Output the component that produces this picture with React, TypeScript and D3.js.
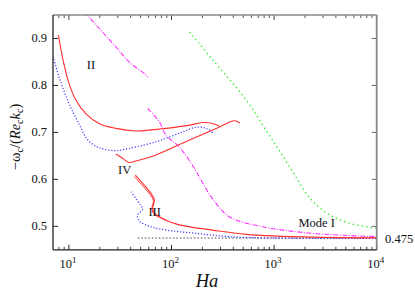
import React from 'react';
import * as d3 from 'd3';

// curves: [Ha, -omega_c/(Re_c k_c)]
const redII: [number, number][] = [
  [7.9, 0.907], [8.64, 0.861], [10.0, 0.805], [11.7, 0.769], [14.6, 0.74],
  [19.7, 0.719], [28.7, 0.7085], [45, 0.703], [76, 0.707], [88.5, 0.7085],
  [150, 0.7155], [202, 0.721], [251, 0.719], [294, 0.713],
];
const redIV: [number, number][] = [
  [28.7, 0.654], [33.3, 0.645], [38.7, 0.636], [45, 0.639], [70.6, 0.652],
  [150, 0.684], [273, 0.7085], [412, 0.7247], [462, 0.72],
];
const redIII: [number, number][] = [
  [44.4, 0.609], [52.3, 0.5915], [63.1, 0.57], [68, 0.556], [65.5, 0.538],
  [68, 0.528], [88.5, 0.513], [119, 0.503], [251, 0.492], [536, 0.483],
  [2380, 0.4768], [10000, 0.4755],
];
const redIIIb: [number, number][] = [
  [43.2, 0.606], [51, 0.589], [61.5, 0.568], [66.5, 0.555], [64.5, 0.539],
  [67, 0.527], [88.5, 0.513],
];
const blueII: [number, number][] = [
  [6.9, 0.868], [8.02, 0.818], [10.0, 0.762], [12.6, 0.717], [14.8, 0.688],
  [17.2, 0.674], [19.7, 0.6677], [23.6, 0.6628], [28.7, 0.661], [33.3, 0.663],
  [70.6, 0.68], [128.5, 0.701], [174, 0.711], [218, 0.7085], [253, 0.6996],
];
const blueIII: [number, number][] = [
  [40.3, 0.5736], [48.5, 0.549], [52.3, 0.537], [46.7, 0.524], [48.5, 0.511],
  [65.5, 0.498], [88.5, 0.492], [174, 0.485], [368, 0.478], [1135, 0.4748],
  [10000, 0.4745],
];
const magentaUpper: [number, number][] = [
  [14.2, 0.956], [28.7, 0.882], [38.7, 0.85], [56.5, 0.822], [58.5, 0.817],
];
const magentaLower: [number, number][] = [
  [58.5, 0.751], [76.2, 0.7226], [88.5, 0.694], [119, 0.669], [167.5, 0.6234],
  [194.5, 0.5979], [253, 0.558], [368, 0.52], [778, 0.499], [2400, 0.485],
  [10000, 0.478],
];
const green: [number, number][] = [
  [150, 0.914], [253, 0.854], [536, 0.769], [809, 0.709], [1135, 0.66],
  [1589, 0.6092], [2230, 0.56], [3500, 0.524], [5500, 0.5064], [8600, 0.498],
  [10000, 0.4962],
];

const asymptote = 0.475;
const asymptoteStart = 47;
const yTicks = [0.5, 0.6, 0.7, 0.8, 0.9];
const xMajor = [10, 100, 1000, 10000];
const xExponents = ['1', '2', '3', '4'];

const labels: { text: string; ha: number; v: number }[] = [
  { text: 'II', ha: 16.4, v: 0.836 },
  { text: 'IV', ha: 35, v: 0.611 },
  { text: 'III', ha: 68.5, v: 0.521 },
  { text: 'Mode I', ha: 2600, v: 0.4995 },
];

const W = 415;
const H = 291;
const left = 53, right = 376.7, top = 15, bottom = 249.8;

export default function App() {
  const x = d3.scaleLog().domain([7, 10000]).range([left, right]);
  const y = d3.scaleLinear().domain([0.45, 0.95]).range([bottom, top]);

  const line = d3
    .line<[number, number]>()
    .x(d => x(d[0]))
    .y(d => y(d[1]))
    .curve(d3.curveCatmullRom.alpha(0.5));

  const minor: number[] = [];
  [1, 10, 100, 1000].forEach(dec => {
    for (let k = 2; k <= 9; k++) {
      const v = dec * k;
      if (v > 7 && v < 10000) minor.push(v);
    }
  });

  const serif = "'Liberation Serif', 'Times New Roman', 'DejaVu Serif', serif";

  return (
    <svg width={W} height={H} style={{ position: 'absolute', left: 0, top: 0, fontFamily: serif }}>
      <rect width={W} height={H} fill="#fff" />
      <defs>
        <clipPath id="plot">
          <rect x={left} y={top} width={right - left} height={bottom - top} />
        </clipPath>
      </defs>

      {/* ticks, mirrored on all sides */}
      {yTicks.map(t => (
        <g key={t}>
          <line x1={left} x2={left + 5} y1={y(t)} y2={y(t)} stroke="#222" />
          <line x1={right} x2={right - 5} y1={y(t)} y2={y(t)} stroke="#666" />
          <text x={47} y={y(t) + 4} textAnchor="end" fontSize={12.5} fill="#111">
            {t.toFixed(1)}
          </text>
        </g>
      ))}
      {xMajor.map((t, i) => (
        <g key={t}>
          <line x1={x(t)} x2={x(t)} y1={bottom} y2={bottom - 5} stroke="#222" />
          <line x1={x(t)} x2={x(t)} y1={top} y2={top + 5} stroke="#444" />
          <text x={x(t) - 1} y={268} textAnchor="middle" fontSize={12.5} fill="#111">
            10<tspan fontSize={9} dy={-5}>{xExponents[i]}</tspan>
          </text>
        </g>
      ))}
      {minor.map(t => (
        <g key={t}>
          <line x1={x(t)} x2={x(t)} y1={bottom} y2={bottom - 3} stroke="#444" />
          <line x1={x(t)} x2={x(t)} y1={top} y2={top + 3} stroke="#555" />
        </g>
      ))}

      <g clipPath="url(#plot)" fill="none">
        <line
          x1={x(asymptoteStart)} x2={right} y1={y(asymptote)} y2={y(asymptote)}
          stroke="#333" strokeWidth={0.9} strokeDasharray="1.5,2"
        />
        <path d={line(green) || ''} stroke="#33ee33" strokeWidth={1.3} strokeDasharray="1.5,3" />
        <path d={line(magentaUpper) || ''} stroke="#ff33ff" strokeWidth={1.1} strokeDasharray="5,1.5,1,1.5" />
        <path d={line(magentaLower) || ''} stroke="#ff33ff" strokeWidth={1.1} strokeDasharray="5,1.5,1,1.5" />
        <path d={line(blueII) || ''} stroke="#3a3aff" strokeWidth={1.2} strokeDasharray="1.2,1.8" />
        <path d={line(blueIII) || ''} stroke="#3a3aff" strokeWidth={1.2} strokeDasharray="1.2,1.8" />
        <path d={line(redII) || ''} stroke="#ff3030" strokeWidth={1.1} />
        <path d={line(redIV) || ''} stroke="#ff3030" strokeWidth={1.1} />
        <path d={line(redIIIb) || ''} stroke="#ff3030" strokeWidth={0.9} />
        <path d={line(redIII) || ''} stroke="#ff3030" strokeWidth={1.2} />
      </g>

      {/* frame */}
      <line x1={left} x2={right} y1={top} y2={top} stroke="#888" strokeWidth={1.5} />
      <line x1={right} x2={right} y1={top} y2={bottom} stroke="#888" strokeWidth={1.8} />
      <line x1={left} x2={left} y1={top} y2={bottom} stroke="#222" strokeWidth={1.3} />
      <line x1={left} x2={right} y1={bottom} y2={bottom} stroke="#222" strokeWidth={1.3} />

      {labels.map(l => (
        <text key={l.text} x={x(l.ha)} y={y(l.v)} textAnchor="middle" fontSize={12.5} fill="#111">
          {l.text}
        </text>
      ))}
      <text x={385} y={243} fontSize={12.5} fill="#111">{asymptote}</text>

      <text x={207} y={287} textAnchor="middle" fontSize={18.5} fontStyle="italic" fill="#111">
        Ha
      </text>
      <text
        transform="translate(20,137) rotate(-90)"
        textAnchor="middle" fontSize={14.5} fill="#111"
      >
        −ω<tspan fontSize={10} dy={3}>c</tspan>
        <tspan dy={-3}>/(</tspan>
        <tspan fontStyle="italic">Re</tspan>
        <tspan fontSize={10} dy={3}>c</tspan>
        <tspan dy={-3} fontStyle="italic">k</tspan>
        <tspan fontSize={10} dy={3}>c</tspan>
        <tspan dy={-3}>)</tspan>
      </text>
    </svg>
  );
}
